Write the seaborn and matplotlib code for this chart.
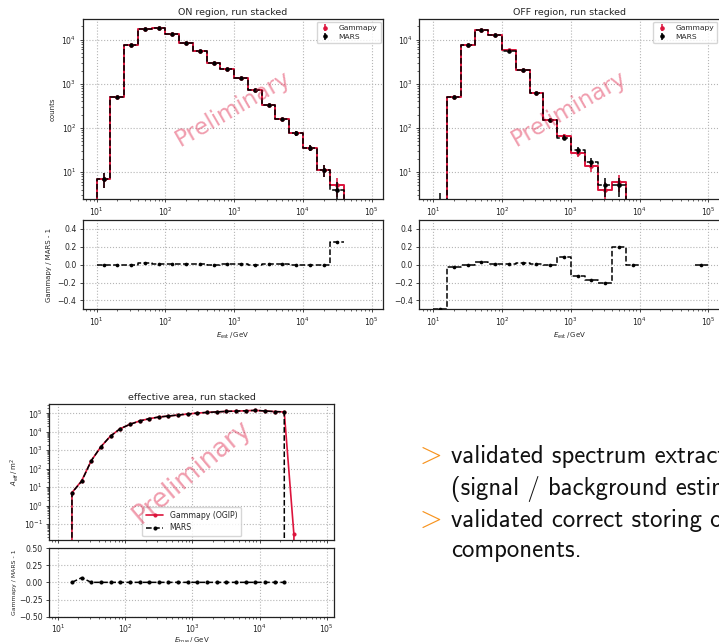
import numpy as np
import matplotlib
matplotlib.use("Agg")
import matplotlib.pyplot as plt
import seaborn as sns

sns.set_style("ticks")
plt.rcParams["font.family"] = ["DejaVu Sans"]
plt.rcParams["mathtext.fontset"] = "dejavusans"

# ---------------- data ----------------
# reconstructed-energy bin edges (GeV), five bins per decade
on_edges = [10, 15.85, 25.12, 39.81, 63.10, 100, 158.5, 251.2, 398.1, 631.0,
            1000, 1585, 2512, 3981, 6310, 10000, 15850, 25120, 39810]
on_gammapy = [7, 510, 7455, 17500, 18700, 13420, 8620, 5570, 3015, 2172,
              1384, 730, 332, 158, 76, 36, 11, 5]
on_mars = [7, 512, 7460, 17100, 18500, 13300, 8550, 5520, 3030, 2150,
           1370, 730, 330, 157, 76, 36, 11, 4]

off_edges = [10, 15.85, 25.12, 39.81, 63.10, 100, 158.5, 251.2, 398.1, 631.0,
             1000, 1585, 2512, 3981, 6310, 10000, 15850, 25120, 39810, 63100,
             100000]
off_gammapy = [1, 495, 7440, 16900, 13050, 5750, 2100, 630, 150, 65,
               27, 14, 4, 6, 1, 0, 0, 0, 0, 1]
off_mars = [2, 510, 7460, 16400, 12900, 5690, 2060, 625, 150, 60,
            31, 17, 5, 5, 1, 0, 0, 0, 0, 1]

# true-energy grid (GeV) and effective area (m^2)
e_true = [11.5, 16.0, 22.3, 31.0, 43.2, 60.1, 83.8, 116.7, 162.6, 226.0,
          315.0, 439.0, 611.0, 851.0, 1183, 1648, 2296, 3199, 4457, 6194,
          8630, 12020, 16750, 23330, 32510, 45300]
aeff_gammapy = [0, 5.0, 22.0, 270, 1550, 5900, 14700, 25300, 38400, 51400,
                63200, 71700, 81200, 92000, 104000, 112000, 120000, 128000,
                133000, 138000, 145000, 135000, 125000, 120000, 0.027, 0]
aeff_mars = [0, 5.0, 20.6, 270, 1550, 5900, 14700, 25300, 38400, 51400,
             63200, 71700, 81200, 92000, 104000, 112000, 120000, 128000,
             133000, 138000, 145000, 135000, 125000, 120000, 0, 0]

RED = "#DC143C"
ORANGE = "#F7931E"
GRID = dict(ls=":", color="#b5b5b5", lw=0.8)

TICK_FS = 5.6
TITLE_FS = 6.8
LABEL_FS = 5.0

W, H = 719, 642
fig = plt.figure(figsize=(W / 100, H / 100), dpi=100)


def px_axes(x0, y0, x1, y1):
    """Axes from pixel box (left, top, right, bottom)."""
    return fig.add_axes([x0 / W, 1 - y1 / H, (x1 - x0) / W, (y1 - y0) / H])


def style_axes(ax):
    ax.grid(True, which="major", **GRID)
    ax.tick_params(which="major", length=2.5, width=0.6, labelsize=TICK_FS, pad=2)
    ax.tick_params(which="minor", length=1.5, width=0.5)
    for s in ax.spines.values():
        s.set_linewidth(0.9)
        s.set_color("#222222")
    ax.set_axisbelow(True)


def stairs_xy(edges, counts):
    x = [edges[0]] + list(edges)
    y = [0] + list(counts) + [0]
    return np.array(x, float), np.array(y, float)


def finite_runs(mask):
    runs, start = [], None
    for i, ok in enumerate(mask):
        if ok and start is None:
            start = i
        if not ok and start is not None:
            runs.append((start, i))
            start = None
    if start is not None:
        runs.append((start, len(mask)))
    return runs


def watermark(ax, rot, size):
    ax.text(0.5, 0.5, "Preliminary", transform=ax.transAxes, ha="center",
            va="center", rotation=rot, fontsize=size, color=RED, alpha=0.42,
            zorder=10)


def counts_panel(ax, axr, edges, g, m, title, ratio_label):
    edges = np.array(edges, float)
    g = np.array(g, float)
    m = np.array(m, float)
    centers = np.sqrt(edges[:-1] * edges[1:])

    xs, yg = stairs_xy(edges, g)
    _, ym = stairs_xy(edges, m)
    sns.lineplot(x=xs, y=yg, ax=ax, color=RED, lw=1.4, sort=False,
                 estimator=None, drawstyle="steps-post")
    sns.lineplot(x=xs, y=ym, ax=ax, color="black", lw=1.1, ls="--", sort=False,
                 estimator=None, drawstyle="steps-post")
    ax.errorbar(centers, g, yerr=np.sqrt(g), fmt="o", ms=2.3, color=RED,
                elinewidth=1.1, capsize=0, label="Gammapy", zorder=4)
    ax.errorbar(centers, m, yerr=np.sqrt(m), fmt="o", ms=2.3, color="black",
                elinewidth=1.1, capsize=0, label="MARS", zorder=5)

    ax.set_xscale("log", nonpositive="clip")
    ax.set_yscale("log", nonpositive="clip")
    ax.set_xlim(6.25, 1.46e5)
    ax.set_ylim(2.45, 2.9e4)
    ax.set_xlabel("")
    ax.set_ylabel("")
    ax.set_title(title, fontsize=TITLE_FS, pad=3)
    style_axes(ax)
    ax.legend(loc="upper right", fontsize=5.4, handlelength=1.4,
              borderpad=0.45, labelspacing=0.35, handletextpad=1.1,
              borderaxespad=0.3)
    watermark(ax, 30, 16.5)

    with np.errstate(divide="ignore", invalid="ignore"):
        r = g / m - 1
    ok = np.isfinite(r)
    for i0, i1 in finite_runs(ok):
        x = edges[i0:i1 + 1]
        y = np.append(r[i0:i1], r[i1 - 1])
        sns.lineplot(x=x, y=y, ax=axr, color="black", lw=1.1, ls="--",
                     sort=False, estimator=None, drawstyle="steps-post")
    sns.scatterplot(x=centers[ok], y=r[ok], ax=axr, color="black", s=7,
                    edgecolor="black", linewidth=0, zorder=5)
    axr.set_xscale("log")
    axr.set_xlim(6.25, 1.46e5)
    axr.set_ylim(-0.5, 0.5)
    axr.set_yticks([-0.4, -0.2, 0.0, 0.2, 0.4])
    axr.set_ylabel("Gammapy / MARS - 1" if ratio_label else "",
                   fontsize=LABEL_FS)
    axr.set_xlabel(r"$E_\mathrm{est}\,/\,\mathrm{GeV}$", fontsize=LABEL_FS,
                   labelpad=2)
    style_axes(axr)


# ---------------- ON / OFF counts ----------------
ax_on = px_axes(82.7, 19.3, 383, 199)
ax_on_r = px_axes(82.7, 220, 383, 309.3)
counts_panel(ax_on, ax_on_r, on_edges, on_gammapy, on_mars,
             "ON region, run stacked", True)
ax_on.set_ylabel("counts", fontsize=LABEL_FS)

ax_off = px_axes(419.3, 19.3, 719.6, 199)
ax_off_r = px_axes(419.3, 220, 719.6, 309.3)
counts_panel(ax_off, ax_off_r, off_edges, off_gammapy, off_mars,
             "OFF region, run stacked", False)

# ---------------- effective area ----------------
ax_a = px_axes(49.3, 404.3, 334.3, 540)
ax_ar = px_axes(49.3, 548, 334.3, 616.7)

et = np.array(e_true, float)
ag = np.array(aeff_gammapy, float)
am = np.array(aeff_mars, float)
sns.lineplot(x=et, y=ag, ax=ax_a, color=RED, lw=1.2, marker="o", ms=2.2,
             mec=RED, sort=False, estimator=None, label="Gammapy (OGIP)")
sns.lineplot(x=et, y=am, ax=ax_a, color="black", lw=1.1, ls="--", marker="o",
             ms=2.2, mec="black", sort=False, estimator=None, label="MARS")
ax_a.set_xscale("log", nonpositive="clip")
ax_a.set_yscale("log", nonpositive="clip")
ax_a.set_xlim(7.35, 1.3e5)
ax_a.set_ylim(0.0135, 3.1e5)
ax_a.yaxis.set_major_locator(matplotlib.ticker.LogLocator(base=10, numticks=15))
ax_a.set_ylabel(r"$A_\mathrm{eff}\,/\,\mathrm{m}^2$", fontsize=LABEL_FS,
                labelpad=2)
ax_a.set_xlabel("")
ax_a.set_title("effective area, run stacked", fontsize=TITLE_FS, pad=3)
style_axes(ax_a)
ax_a.tick_params(labelbottom=False)
ax_a.legend(loc="lower center", fontsize=5.6, handlelength=2.2,
            borderpad=0.5, labelspacing=0.4)
watermark(ax_a, 40, 18.5)

with np.errstate(divide="ignore", invalid="ignore"):
    ra = ag / am - 1
ok = np.isfinite(ra)
sns.lineplot(x=et[ok], y=ra[ok], ax=ax_ar, color="black", lw=1.1, ls="--",
             marker="o", ms=2.2, mec="black", sort=False, estimator=None)
ax_ar.set_xscale("log")
ax_ar.set_xlim(7.35, 1.3e5)
ax_ar.set_ylim(-0.5, 0.5)
ax_ar.set_yticks([-0.5, -0.25, 0.0, 0.25, 0.5])
ax_ar.set_ylabel("Gammapy / MARS - 1", fontsize=4.4, labelpad=1.5)
ax_ar.set_xlabel(r"$E_\mathrm{true}\,/\,\mathrm{GeV}$", fontsize=LABEL_FS,
                 labelpad=0.5)
style_axes(ax_ar)
ax_ar.tick_params(axis="x", pad=1.5)

# ---------------- bullet text ----------------
bullets = [
    (463, True, "validated spectrum extraction"),
    (495, False, "(signal / background estimation)"),
    (527, True, "validated correct storing of the IRF"),
    (557, False, "components."),
]
for y, chevron, line in bullets:
    if chevron:
        fig.text(414 / W, 1 - y / H, r"$>$", color=ORANGE, fontsize=21,
                 math_fontfamily="cm", va="baseline", ha="left")
    fig.text(451 / W, 1 - y / H, line, color="#111111", fontsize=17.8,
             family="cmss10", va="baseline", ha="left")

fig.savefig("out.png", dpi=100)
